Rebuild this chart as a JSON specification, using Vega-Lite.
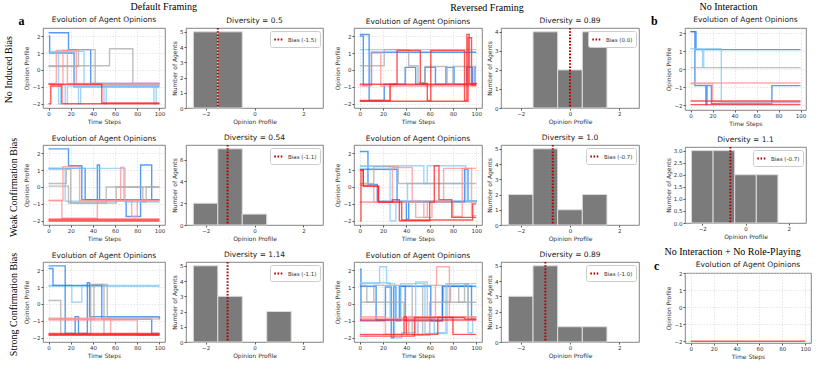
{
"$schema":"https://vega.github.io/schema/vega-lite/v6.json",
"padding":{"left":4,"top":1,"right":2,"bottom":1},
"config":{
 "font":"DejaVu Sans",
 "view":{"stroke":"#666666","strokeWidth":0.8},
 "axis":{"labelFontSize":5.5,"titleFontSize":6,"labelColor":"#333333","titleColor":"#333333","tickColor":"#555555","tickSize":2,"labelPadding":1,"titlePadding":2,"domain":false,"titleFontWeight":"normal","gridColor":"#d5d5d5","gridDash":[1.5,1.5],"gridWidth":0.6},
 "title":{"fontSize":7.5,"fontWeight":"normal","offset":3,"color":"#222222","font":"DejaVu Sans"}
},
"datasets":{
"lines":[
{"p":"D1","a":1,"g":"Dem","t":0,"v":2.2},{"p":"D1","a":1,"g":"Dem","t":18,"v":1.2},{"p":"D1","a":1,"g":"Dem","t":38,"v":-0.8},{"p":"D1","a":1,"g":"Dem","t":100,"v":-0.8},
{"p":"D1","a":2,"g":"Dem","t":0,"v":2.0},{"p":"D1","a":2,"g":"Dem","t":1,"v":1.0},{"p":"D1","a":2,"g":"Dem","t":23,"v":-1.0},{"p":"D1","a":2,"g":"Dem","t":100,"v":-1.0},
{"p":"D1","a":3,"g":"LDem","t":0,"v":1.05},{"p":"D1","a":3,"g":"LDem","t":9,"v":-2},{"p":"D1","a":3,"g":"LDem","t":11,"v":-0.9},{"p":"D1","a":3,"g":"LDem","t":15,"v":-2},{"p":"D1","a":3,"g":"LDem","t":17,"v":-0.95},{"p":"D1","a":3,"g":"LDem","t":27,"v":-2},{"p":"D1","a":3,"g":"LDem","t":29,"v":-0.95},{"p":"D1","a":3,"g":"LDem","t":50,"v":-2},{"p":"D1","a":3,"g":"LDem","t":52,"v":-0.95},{"p":"D1","a":3,"g":"LDem","t":95,"v":-2},{"p":"D1","a":3,"g":"LDem","t":97,"v":-0.95},{"p":"D1","a":3,"g":"LDem","t":100,"v":-0.95},
{"p":"D1","a":4,"g":"LDem","t":0,"v":1.1},{"p":"D1","a":4,"g":"LDem","t":32,"v":-0.9},{"p":"D1","a":4,"g":"LDem","t":100,"v":-0.9},
{"p":"D1","a":5,"g":"Neu","t":0,"v":0.25},{"p":"D1","a":5,"g":"Neu","t":55,"v":1.25},{"p":"D1","a":5,"g":"Neu","t":76,"v":-0.8},{"p":"D1","a":5,"g":"Neu","t":100,"v":-0.8},
{"p":"D1","a":6,"g":"Neu","t":0,"v":0.2},{"p":"D1","a":6,"g":"Neu","t":27,"v":1.2},{"p":"D1","a":6,"g":"Neu","t":42,"v":-0.85},{"p":"D1","a":6,"g":"Neu","t":100,"v":-0.85},
{"p":"D1","a":7,"g":"LRep","t":0,"v":-0.8},{"p":"D1","a":7,"g":"LRep","t":7,"v":1.15},{"p":"D1","a":7,"g":"LRep","t":17,"v":-0.8},{"p":"D1","a":7,"g":"LRep","t":100,"v":-0.8},
{"p":"D1","a":8,"g":"LRep","t":0,"v":-0.85},{"p":"D1","a":8,"g":"LRep","t":13,"v":1.15},{"p":"D1","a":8,"g":"LRep","t":25,"v":-0.9},{"p":"D1","a":8,"g":"LRep","t":100,"v":-0.9},
{"p":"D1","a":9,"g":"Rep","t":0,"v":-2},{"p":"D1","a":9,"g":"Rep","t":2,"v":-0.95},{"p":"D1","a":9,"g":"Rep","t":12,"v":-2},{"p":"D1","a":9,"g":"Rep","t":100,"v":-2},
{"p":"D1","a":10,"g":"Rep","t":0,"v":-0.85},{"p":"D1","a":10,"g":"Rep","t":48,"v":-1.95},{"p":"D1","a":10,"g":"Rep","t":100,"v":-1.95},

{"p":"R1","a":1,"g":"LDem","t":0,"v":1.2},{"p":"R1","a":1,"g":"LDem","t":100,"v":1.2},
{"p":"R1","a":2,"g":"Dem","t":0,"v":2.1},{"p":"R1","a":2,"g":"Dem","t":8,"v":-1.8},{"p":"R1","a":2,"g":"Dem","t":21,"v":-0.85},{"p":"R1","a":2,"g":"Dem","t":39,"v":0.15},{"p":"R1","a":2,"g":"Dem","t":48,"v":-0.85},{"p":"R1","a":2,"g":"Dem","t":56,"v":0.15},{"p":"R1","a":2,"g":"Dem","t":65,"v":-0.85},{"p":"R1","a":2,"g":"Dem","t":74,"v":0.15},{"p":"R1","a":2,"g":"Dem","t":81,"v":-0.85},{"p":"R1","a":2,"g":"Dem","t":92,"v":0.15},{"p":"R1","a":2,"g":"Dem","t":97,"v":-0.9},{"p":"R1","a":2,"g":"Dem","t":99,"v":0.15},{"p":"R1","a":2,"g":"Dem","t":100,"v":0.15},
{"p":"R1","a":3,"g":"Dem","t":0,"v":2.0},{"p":"R1","a":3,"g":"Dem","t":3,"v":-0.9},{"p":"R1","a":3,"g":"Dem","t":10,"v":1.05},{"p":"R1","a":3,"g":"Dem","t":100,"v":1.05},
{"p":"R1","a":4,"g":"Neu","t":0,"v":0.25},{"p":"R1","a":4,"g":"Neu","t":21,"v":1.2},{"p":"R1","a":4,"g":"Neu","t":42,"v":0.25},{"p":"R1","a":4,"g":"Neu","t":50,"v":-0.75},{"p":"R1","a":4,"g":"Neu","t":56,"v":0.2},{"p":"R1","a":4,"g":"Neu","t":75,"v":-0.8},{"p":"R1","a":4,"g":"Neu","t":80,"v":0.2},{"p":"R1","a":4,"g":"Neu","t":100,"v":0.2},
{"p":"R1","a":6,"g":"LRep","t":0,"v":-0.95},{"p":"R1","a":6,"g":"LRep","t":10,"v":1.0},{"p":"R1","a":6,"g":"LRep","t":18,"v":-0.95},{"p":"R1","a":6,"g":"LRep","t":100,"v":-0.95},
{"p":"R1","a":7,"g":"LRep","t":0,"v":-1.85},{"p":"R1","a":7,"g":"LRep","t":26,"v":-0.9},{"p":"R1","a":7,"g":"LRep","t":100,"v":-0.9},
{"p":"R1","a":8,"g":"Rep","t":0,"v":-1.8},{"p":"R1","a":8,"g":"Rep","t":26,"v":-0.85},{"p":"R1","a":8,"g":"Rep","t":32,"v":1.15},{"p":"R1","a":8,"g":"Rep","t":52,"v":-0.8},{"p":"R1","a":8,"g":"Rep","t":58,"v":-1.8},{"p":"R1","a":8,"g":"Rep","t":61,"v":1.15},{"p":"R1","a":8,"g":"Rep","t":90,"v":-1.8},{"p":"R1","a":8,"g":"Rep","t":92,"v":2.1},{"p":"R1","a":8,"g":"Rep","t":94,"v":-0.8},{"p":"R1","a":8,"g":"Rep","t":100,"v":-0.85},
{"p":"R1","a":9,"g":"Rep","t":0,"v":-0.85},{"p":"R1","a":9,"g":"Rep","t":100,"v":-0.85},
{"p":"R1","a":10,"g":"Rep","t":0,"v":-1.85},{"p":"R1","a":10,"g":"Rep","t":90,"v":-1.85},{"p":"R1","a":10,"g":"Rep","t":93,"v":1.9},{"p":"R1","a":10,"g":"Rep","t":96,"v":-0.9},{"p":"R1","a":10,"g":"Rep","t":100,"v":-0.9},

{"p":"D2","a":1,"g":"Dem","t":0,"v":2.25},{"p":"D2","a":1,"g":"Dem","t":18,"v":1.25},{"p":"D2","a":1,"g":"Dem","t":30,"v":-0.75},{"p":"D2","a":1,"g":"Dem","t":100,"v":-0.75},
{"p":"D2","a":2,"g":"Dem","t":0,"v":1.1},{"p":"D2","a":2,"g":"Dem","t":33,"v":-0.75},{"p":"D2","a":2,"g":"Dem","t":44,"v":1.3},{"p":"D2","a":2,"g":"Dem","t":46,"v":-0.75},{"p":"D2","a":2,"g":"Dem","t":70,"v":-1.75},{"p":"D2","a":2,"g":"Dem","t":83,"v":1.3},{"p":"D2","a":2,"g":"Dem","t":93,"v":-0.75},{"p":"D2","a":2,"g":"Dem","t":100,"v":-0.75},
{"p":"D2","a":3,"g":"LDem","t":0,"v":1.1},{"p":"D2","a":3,"g":"LDem","t":69,"v":-0.9},{"p":"D2","a":3,"g":"LDem","t":100,"v":-0.9},
{"p":"D2","a":4,"g":"LDem","t":0,"v":1.05},{"p":"D2","a":4,"g":"LDem","t":15,"v":-0.85},{"p":"D2","a":4,"g":"LDem","t":100,"v":-0.85},
{"p":"D2","a":5,"g":"Neu","t":0,"v":0.2},{"p":"D2","a":5,"g":"Neu","t":16,"v":1.05},{"p":"D2","a":5,"g":"Neu","t":20,"v":-0.95},{"p":"D2","a":5,"g":"Neu","t":52,"v":0.0},{"p":"D2","a":5,"g":"Neu","t":100,"v":0.0},
{"p":"D2","a":6,"g":"Neu","t":0,"v":0.05},{"p":"D2","a":6,"g":"Neu","t":18,"v":-0.95},{"p":"D2","a":6,"g":"Neu","t":61,"v":0.0},{"p":"D2","a":6,"g":"Neu","t":85,"v":-0.9},{"p":"D2","a":6,"g":"Neu","t":88,"v":0.0},{"p":"D2","a":6,"g":"Neu","t":100,"v":0.0},
{"p":"D2","a":7,"g":"LRep","t":0,"v":-0.8},{"p":"D2","a":7,"g":"LRep","t":12,"v":-1.85},{"p":"D2","a":7,"g":"LRep","t":44,"v":-0.8},{"p":"D2","a":7,"g":"LRep","t":65,"v":1.15},{"p":"D2","a":7,"g":"LRep","t":68,"v":-0.8},{"p":"D2","a":7,"g":"LRep","t":100,"v":-0.8},
{"p":"D2","a":8,"g":"LRep","t":0,"v":-0.8},{"p":"D2","a":8,"g":"LRep","t":13,"v":1.2},{"p":"D2","a":8,"g":"LRep","t":28,"v":-0.8},{"p":"D2","a":8,"g":"LRep","t":75,"v":-1.75},{"p":"D2","a":8,"g":"LRep","t":80,"v":-0.8},{"p":"D2","a":8,"g":"LRep","t":100,"v":-0.8},
{"p":"D2","a":9,"g":"Rep","t":0,"v":-1.9},{"p":"D2","a":9,"g":"Rep","t":100,"v":-1.9},
{"p":"D2","a":10,"g":"Rep","t":0,"v":-1.96},{"p":"D2","a":10,"g":"Rep","t":100,"v":-1.96},
{"p":"D2","a":11,"g":"Rep","t":0,"v":-2.02},{"p":"D2","a":11,"g":"Rep","t":100,"v":-2.02},

{"p":"R2","a":1,"g":"Dem","t":0,"v":2.1},{"p":"R2","a":1,"g":"Dem","t":7,"v":0.15},{"p":"R2","a":1,"g":"Dem","t":15,"v":-0.85},{"p":"R2","a":1,"g":"Dem","t":100,"v":-0.9},
{"p":"R2","a":2,"g":"Dem","t":0,"v":1.05},{"p":"R2","a":2,"g":"Dem","t":32,"v":-0.9},{"p":"R2","a":2,"g":"Dem","t":40,"v":-1.9},{"p":"R2","a":2,"g":"Dem","t":42,"v":-0.9},{"p":"R2","a":2,"g":"Dem","t":90,"v":1.05},{"p":"R2","a":2,"g":"Dem","t":93,"v":-0.85},{"p":"R2","a":2,"g":"Dem","t":100,"v":-0.85},
{"p":"R2","a":3,"g":"LDem","t":0,"v":1.25},{"p":"R2","a":3,"g":"LDem","t":55,"v":0.2},{"p":"R2","a":3,"g":"LDem","t":58,"v":1.25},{"p":"R2","a":3,"g":"LDem","t":91,"v":-0.85},{"p":"R2","a":3,"g":"LDem","t":100,"v":-0.85},
{"p":"R2","a":4,"g":"LDem","t":0,"v":1.2},{"p":"R2","a":4,"g":"LDem","t":26,"v":-2},{"p":"R2","a":4,"g":"LDem","t":31,"v":-0.85},{"p":"R2","a":4,"g":"LDem","t":41,"v":0.2},{"p":"R2","a":4,"g":"LDem","t":93,"v":-0.85},{"p":"R2","a":4,"g":"LDem","t":100,"v":-0.85},
{"p":"R2","a":5,"g":"Neu","t":0,"v":0.2},{"p":"R2","a":5,"g":"Neu","t":12,"v":1.2},{"p":"R2","a":5,"g":"Neu","t":33,"v":0.2},{"p":"R2","a":5,"g":"Neu","t":100,"v":0.2},
{"p":"R2","a":6,"g":"Neu","t":0,"v":-0.9},{"p":"R2","a":6,"g":"Neu","t":100,"v":-0.9},
{"p":"R2","a":7,"g":"LRep","t":0,"v":-0.9},{"p":"R2","a":7,"g":"LRep","t":28,"v":1.15},{"p":"R2","a":7,"g":"LRep","t":45,"v":-0.85},{"p":"R2","a":7,"g":"LRep","t":55,"v":-1.8},{"p":"R2","a":7,"g":"LRep","t":62,"v":-0.9},{"p":"R2","a":7,"g":"LRep","t":72,"v":1.1},{"p":"R2","a":7,"g":"LRep","t":100,"v":1.1},
{"p":"R2","a":8,"g":"LRep","t":0,"v":0.1},{"p":"R2","a":8,"g":"LRep","t":12,"v":-0.9},{"p":"R2","a":8,"g":"LRep","t":48,"v":-1.8},{"p":"R2","a":8,"g":"LRep","t":58,"v":-0.85},{"p":"R2","a":8,"g":"LRep","t":80,"v":-1.75},{"p":"R2","a":8,"g":"LRep","t":88,"v":1.1},{"p":"R2","a":8,"g":"LRep","t":96,"v":-1.7},{"p":"R2","a":8,"g":"LRep","t":100,"v":-1.7},
{"p":"R2","a":9,"g":"Rep","t":0,"v":-2},{"p":"R2","a":9,"g":"Rep","t":1,"v":1.0},{"p":"R2","a":9,"g":"Rep","t":3,"v":0.05},{"p":"R2","a":9,"g":"Rep","t":16,"v":-0.9},{"p":"R2","a":9,"g":"Rep","t":28,"v":-0.75},{"p":"R2","a":9,"g":"Rep","t":34,"v":-2},{"p":"R2","a":9,"g":"Rep","t":60,"v":-0.9},{"p":"R2","a":9,"g":"Rep","t":64,"v":1.25},{"p":"R2","a":9,"g":"Rep","t":68,"v":-0.75},{"p":"R2","a":9,"g":"Rep","t":79,"v":-1.8},{"p":"R2","a":9,"g":"Rep","t":100,"v":-1.8},
{"p":"R2","a":10,"g":"Rep","t":0,"v":1.0},{"p":"R2","a":10,"g":"Rep","t":3,"v":0.05},{"p":"R2","a":10,"g":"Rep","t":16,"v":-0.9},{"p":"R2","a":10,"g":"Rep","t":36,"v":-1.95},{"p":"R2","a":10,"g":"Rep","t":97,"v":-1.0},{"p":"R2","a":10,"g":"Rep","t":100,"v":-1.0},

{"p":"D3","a":1,"g":"LDem","t":0,"v":1.05},{"p":"D3","a":1,"g":"LDem","t":100,"v":1.05},
{"p":"D3","a":2,"g":"LDem","t":0,"v":1.1},{"p":"D3","a":2,"g":"LDem","t":21,"v":0.1},{"p":"D3","a":2,"g":"LDem","t":30,"v":1.1},{"p":"D3","a":2,"g":"LDem","t":100,"v":1.1},
{"p":"D3","a":3,"g":"Dem","t":0,"v":2.25},{"p":"D3","a":3,"g":"Dem","t":15,"v":-1.75},{"p":"D3","a":3,"g":"Dem","t":24,"v":-0.75},{"p":"D3","a":3,"g":"Dem","t":27,"v":-1.75},{"p":"D3","a":3,"g":"Dem","t":35,"v":1.25},{"p":"D3","a":3,"g":"Dem","t":37,"v":-0.75},{"p":"D3","a":3,"g":"Dem","t":100,"v":-0.9},
{"p":"D3","a":4,"g":"Dem","t":0,"v":2.1},{"p":"D3","a":4,"g":"Dem","t":4,"v":1.1},{"p":"D3","a":4,"g":"Dem","t":48,"v":-0.9},{"p":"D3","a":4,"g":"Dem","t":93,"v":-1.75},{"p":"D3","a":4,"g":"Dem","t":100,"v":-1.75},
{"p":"D3","a":5,"g":"Neu","t":0,"v":0.2},{"p":"D3","a":5,"g":"Neu","t":11,"v":-1.8},{"p":"D3","a":5,"g":"Neu","t":38,"v":1.15},{"p":"D3","a":5,"g":"Neu","t":50,"v":-1.8},{"p":"D3","a":5,"g":"Neu","t":100,"v":-1.8},
{"p":"D3","a":6,"g":"Neu","t":0,"v":-0.9},{"p":"D3","a":6,"g":"Neu","t":41,"v":1.15},{"p":"D3","a":6,"g":"Neu","t":53,"v":-0.8},{"p":"D3","a":6,"g":"Neu","t":100,"v":-0.8},
{"p":"D3","a":7,"g":"LRep","t":0,"v":-0.9},{"p":"D3","a":7,"g":"LRep","t":100,"v":-0.9},
{"p":"D3","a":8,"g":"LRep","t":0,"v":-0.85},{"p":"D3","a":8,"g":"LRep","t":56,"v":-1.8},{"p":"D3","a":8,"g":"LRep","t":100,"v":-1.8},
{"p":"D3","a":9,"g":"LRep","t":0,"v":-0.95},{"p":"D3","a":9,"g":"LRep","t":80,"v":-1.85},{"p":"D3","a":9,"g":"LRep","t":100,"v":-1.85},
{"p":"D3","a":10,"g":"Rep","t":0,"v":-1.8},{"p":"D3","a":10,"g":"Rep","t":100,"v":-1.8},
{"p":"D3","a":11,"g":"Rep","t":0,"v":-1.85},{"p":"D3","a":11,"g":"Rep","t":100,"v":-1.85},
{"p":"D3","a":12,"g":"Rep","t":0,"v":-1.75},{"p":"D3","a":12,"g":"Rep","t":100,"v":-1.75},

{"p":"R3","a":1,"g":"Dem","t":0,"v":2.05},{"p":"R3","a":1,"g":"Dem","t":1,"v":-1.0},{"p":"R3","a":1,"g":"Dem","t":22,"v":1.0},{"p":"R3","a":1,"g":"Dem","t":27,"v":-2.0},{"p":"R3","a":1,"g":"Dem","t":29,"v":1.0},{"p":"R3","a":1,"g":"Dem","t":31,"v":-1.0},{"p":"R3","a":1,"g":"Dem","t":35,"v":1.05},{"p":"R3","a":1,"g":"Dem","t":61,"v":-1.0},{"p":"R3","a":1,"g":"Dem","t":71,"v":1.05},{"p":"R3","a":1,"g":"Dem","t":100,"v":1.05},
{"p":"R3","a":2,"g":"Dem","t":0,"v":1.05},{"p":"R3","a":2,"g":"Dem","t":14,"v":-0.95},{"p":"R3","a":2,"g":"Dem","t":34,"v":1.05},{"p":"R3","a":2,"g":"Dem","t":39,"v":-1.0},{"p":"R3","a":2,"g":"Dem","t":71,"v":1.05},{"p":"R3","a":2,"g":"Dem","t":96,"v":-0.9},{"p":"R3","a":2,"g":"Dem","t":100,"v":-0.9},
{"p":"R3","a":3,"g":"LDem","t":0,"v":1.2},{"p":"R3","a":3,"g":"LDem","t":17,"v":2.2},{"p":"R3","a":3,"g":"LDem","t":23,"v":1.2},{"p":"R3","a":3,"g":"LDem","t":30,"v":-2},{"p":"R3","a":3,"g":"LDem","t":36,"v":-1.7},{"p":"R3","a":3,"g":"LDem","t":48,"v":1.3},{"p":"R3","a":3,"g":"LDem","t":58,"v":-0.9},{"p":"R3","a":3,"g":"LDem","t":64,"v":-1.7},{"p":"R3","a":3,"g":"LDem","t":74,"v":1.2},{"p":"R3","a":3,"g":"LDem","t":93,"v":-1.7},{"p":"R3","a":3,"g":"LDem","t":97,"v":-0.75},{"p":"R3","a":3,"g":"LDem","t":100,"v":-0.75},
{"p":"R3","a":4,"g":"LDem","t":0,"v":1.25},{"p":"R3","a":4,"g":"LDem","t":26,"v":-0.95},{"p":"R3","a":4,"g":"LDem","t":35,"v":1.2},{"p":"R3","a":4,"g":"LDem","t":56,"v":-1.75},{"p":"R3","a":4,"g":"LDem","t":75,"v":1.2},{"p":"R3","a":4,"g":"LDem","t":100,"v":1.2},
{"p":"R3","a":5,"g":"Neu","t":0,"v":0.1},{"p":"R3","a":5,"g":"Neu","t":38,"v":-0.8},{"p":"R3","a":5,"g":"Neu","t":50,"v":-1.85},{"p":"R3","a":5,"g":"Neu","t":60,"v":0.1},{"p":"R3","a":5,"g":"Neu","t":78,"v":1.1},{"p":"R3","a":5,"g":"Neu","t":85,"v":0.1},{"p":"R3","a":5,"g":"Neu","t":100,"v":0.1},
{"p":"R3","a":6,"g":"Neu","t":0,"v":1.1},{"p":"R3","a":6,"g":"Neu","t":6,"v":0.1},{"p":"R3","a":6,"g":"Neu","t":12,"v":1.1},{"p":"R3","a":6,"g":"Neu","t":45,"v":-1.85},{"p":"R3","a":6,"g":"Neu","t":54,"v":1.1},{"p":"R3","a":6,"g":"Neu","t":72,"v":0.1},{"p":"R3","a":6,"g":"Neu","t":90,"v":1.15},{"p":"R3","a":6,"g":"Neu","t":93,"v":-0.9},{"p":"R3","a":6,"g":"Neu","t":100,"v":-0.9},
{"p":"R3","a":7,"g":"LRep","t":0,"v":-0.85},{"p":"R3","a":7,"g":"LRep","t":65,"v":1.1},{"p":"R3","a":7,"g":"LRep","t":66,"v":2.2},{"p":"R3","a":7,"g":"LRep","t":77,"v":-0.8},{"p":"R3","a":7,"g":"LRep","t":100,"v":-0.85},
{"p":"R3","a":8,"g":"LRep","t":0,"v":-0.75},{"p":"R3","a":8,"g":"LRep","t":22,"v":-1.8},{"p":"R3","a":8,"g":"LRep","t":42,"v":-0.75},{"p":"R3","a":8,"g":"LRep","t":100,"v":-0.75},
{"p":"R3","a":9,"g":"Rep","t":0,"v":-1.8},{"p":"R3","a":9,"g":"Rep","t":38,"v":-0.75},{"p":"R3","a":9,"g":"Rep","t":40,"v":-1.8},{"p":"R3","a":9,"g":"Rep","t":67,"v":-0.8},{"p":"R3","a":9,"g":"Rep","t":80,"v":-1.8},{"p":"R3","a":9,"g":"Rep","t":100,"v":-1.8},
{"p":"R3","a":10,"g":"Rep","t":0,"v":-0.95},{"p":"R3","a":10,"g":"Rep","t":100,"v":-0.95},
{"p":"R3","a":11,"g":"Rep","t":0,"v":-1.9},{"p":"R3","a":11,"g":"Rep","t":47,"v":-0.8},{"p":"R3","a":11,"g":"Rep","t":90,"v":-0.9},{"p":"R3","a":11,"g":"Rep","t":100,"v":-0.9},

{"p":"B","a":1,"g":"Dem","t":0,"v":2.1},{"p":"B","a":1,"g":"Dem","t":4,"v":-0.9},{"p":"B","a":1,"g":"Dem","t":14,"v":-1.95},{"p":"B","a":1,"g":"Dem","t":15,"v":-0.9},{"p":"B","a":1,"g":"Dem","t":19,"v":-1.9},{"p":"B","a":1,"g":"Dem","t":74,"v":-0.9},{"p":"B","a":1,"g":"Dem","t":100,"v":-0.9},
{"p":"B","a":2,"g":"Dem","t":0,"v":2.1},{"p":"B","a":2,"g":"Dem","t":5,"v":1.1},{"p":"B","a":2,"g":"Dem","t":100,"v":1.1},
{"p":"B","a":3,"g":"LDem","t":0,"v":1.15},{"p":"B","a":3,"g":"LDem","t":11,"v":0.15},{"p":"B","a":3,"g":"LDem","t":12,"v":1.15},{"p":"B","a":3,"g":"LDem","t":28,"v":-1.85},{"p":"B","a":3,"g":"LDem","t":100,"v":-1.85},
{"p":"B","a":4,"g":"Neu","t":0,"v":0.1},{"p":"B","a":4,"g":"Neu","t":100,"v":0.1},
{"p":"B","a":5,"g":"LRep","t":0,"v":-0.75},{"p":"B","a":5,"g":"LRep","t":100,"v":-0.75},
{"p":"B","a":6,"g":"LRep","t":0,"v":-0.8},{"p":"B","a":6,"g":"LRep","t":20,"v":-1.8},{"p":"B","a":6,"g":"LRep","t":100,"v":-1.8},
{"p":"B","a":7,"g":"Rep","t":0,"v":-1.75},{"p":"B","a":7,"g":"Rep","t":100,"v":-1.75},
{"p":"B","a":8,"g":"Rep","t":0,"v":-1.95},{"p":"B","a":8,"g":"Rep","t":100,"v":-1.95},

{"p":"C","a":1,"g":"Rep","t":0,"v":-2},{"p":"C","a":1,"g":"Rep","t":100,"v":-2}
],
"hist":[
{"p":"D1","lo":-2.5,"hi":-1.5,"n":5},{"p":"D1","lo":-1.5,"hi":-0.5,"n":5},
{"p":"R1","lo":-1.5,"hi":-0.5,"n":4},{"p":"R1","lo":-0.5,"hi":0.5,"n":2},{"p":"R1","lo":0.5,"hi":1.5,"n":4},
{"p":"D2","lo":-2.5,"hi":-1.5,"n":2},{"p":"D2","lo":-1.5,"hi":-0.5,"n":7},{"p":"D2","lo":-0.5,"hi":0.5,"n":1},
{"p":"R2","lo":-2.5,"hi":-1.5,"n":2},{"p":"R2","lo":-1.5,"hi":-0.5,"n":5},{"p":"R2","lo":-0.5,"hi":0.5,"n":1},{"p":"R2","lo":0.5,"hi":1.5,"n":2},
{"p":"D3","lo":-2.5,"hi":-1.5,"n":5},{"p":"D3","lo":-1.5,"hi":-0.5,"n":3},{"p":"D3","lo":0.5,"hi":1.5,"n":2},
{"p":"R3","lo":-2.5,"hi":-1.5,"n":3},{"p":"R3","lo":-1.5,"hi":-0.5,"n":5},{"p":"R3","lo":-0.5,"hi":0.5,"n":1},{"p":"R3","lo":0.5,"hi":1.5,"n":1},
{"p":"B","lo":-2.5,"hi":-1.5,"n":3},{"p":"B","lo":-1.5,"hi":-0.5,"n":3},{"p":"B","lo":-0.5,"hi":0.5,"n":2},{"p":"B","lo":0.5,"hi":1.5,"n":2}
],
"bias":[
{"p":"D1","b":-1.5,"label":"Bias (-1.5)"},
{"p":"R1","b":0.0,"label":"Bias (0.0)"},
{"p":"D2","b":-1.1,"label":"Bias (-1.1)"},
{"p":"R2","b":-0.7,"label":"Bias (-0.7)"},
{"p":"D3","b":-1.1,"label":"Bias (-1.1)"},
{"p":"R3","b":-1.0,"label":"Bias (-1.0)"},
{"p":"B","b":-0.7,"label":"Bias (-0.7)"}
]
},
"hconcat":[
{
 "title":{"text":"Default Framing","font":"Liberation Serif","fontSize":10,"color":"#000000","offset":3,"anchor":"middle"},
 "spacing":8,
 "resolve":{"scale":{"color":"independent","x":"independent","y":"independent"},"legend":{"color":"independent"}},
 "vconcat":[
  {"title":{"text":"No Induced Bias","orient":"left","font":"Liberation Serif","fontSize":10,"color":"#000000","offset":4,"anchor":"middle"},
   "spacing":5,
   "resolve":{"scale":{"color":"independent","x":"independent","y":"independent"},"legend":{"color":"independent"}},
   "hconcat":[
    {"width":122,"height":80,"title":{"text":"Evolution of Agent Opinions","offset":-8},
     "layer":[
      {"data":{"name":"lines"},"transform":[{"filter":"datum.p==='D1'"}],
       "mark":{"type":"line","interpolate":"step-after","strokeWidth":1.4,"opacity":0.75},
       "encoding":{
        "x":{"field":"t","type":"quantitative","scale":{"domain":[-5,105],"nice":false},"axis":{"values":[0,20,40,60,80,100],"title":"Time Steps","grid":true}},
        "y":{"field":"v","type":"quantitative","scale":{"domain":[-2.25,2.48],"nice":false,"zero":false},"axis":{"values":[-2,-1,0,1,2],"title":"Opinion Profile","grid":true}},
        "color":{"field":"g","type":"nominal","scale":{"domain":["Dem","LDem","Neu","LRep","Rep"],"range":["#1f7bf0","#82c8f5","#a9a9a9","#ff9090","#ff2020"]},"legend":null},
        "detail":{"field":"a","type":"nominal"}}},
      {"data":{"values":[{"k":"a"}]},"mark":{"type":"text","font":"Liberation Serif","fontSize":12,"fontWeight":"bold","align":"left","baseline":"bottom"},
       "encoding":{"x":{"datum":-27,"type":"quantitative","axis":{"values":[0,20,40,60,80,100],"title":"Time Steps","grid":true}},"y":{"datum":2.48,"type":"quantitative","axis":{"values":[-2,-1,0,1,2],"title":"Opinion Profile","grid":true}},"text":{"field":"k"}}}
     ]},
    {"width":137,"height":80,"title":"Diversity = 0.5",
     "layer":[
      {"data":{"name":"hist"},"transform":[{"filter":"datum.p==='D1'"}],"mark":{"type":"rect","fill":"#7b7b7b","stroke":"#dcdcdc","strokeWidth":1},
       "encoding":{"x":{"field":"lo","type":"quantitative","scale":{"domain":[-2.8,2.8],"nice":false},"axis":{"values":[-2,-1,0,1,2],"title":"Opinion Profile","grid":false}},"x2":{"field":"hi"},
        "y":{"field":"n","type":"quantitative","scale":{"domain":[0,5.25],"nice":false},"axis":{"values":[0,1,2,3,4,5],"title":"Number of Agents","grid":false}},"y2":{"datum":0}}},
      {"data":{"name":"bias"},"transform":[{"filter":"datum.p==='D1'"}],"mark":{"type":"rule","strokeWidth":2,"strokeDash":[1.6,1.6]},
       "encoding":{"x":{"field":"b","type":"quantitative"},"color":{"field":"label","type":"nominal","scale":{"range":["#b00000"]},"legend":{"title":null,"orient":"top-right","offset":3,"symbolType":"stroke","symbolDash":[1.6,1.6],"symbolStrokeWidth":2,"symbolSize":70,"labelFontSize":5.5,"labelColor":"#333333","padding":3,"strokeColor":"#cccccc","fillColor":"#ffffff","cornerRadius":2}}}}
     ]}
   ]},
  {"title":{"text":"Weak Confirmation Bias","orient":"left","font":"Liberation Serif","fontSize":10,"color":"#000000","offset":4,"anchor":"middle"},
   "spacing":5,
   "resolve":{"scale":{"color":"independent","x":"independent","y":"independent"},"legend":{"color":"independent"}},
   "hconcat":[
    {"width":122,"height":80,"title":"Evolution of Agent Opinions",
     "data":{"name":"lines"},"transform":[{"filter":"datum.p==='D2'"}],
     "mark":{"type":"line","interpolate":"step-after","strokeWidth":1.4,"opacity":0.75},
     "encoding":{
      "x":{"field":"t","type":"quantitative","scale":{"domain":[-5,105],"nice":false},"axis":{"values":[0,20,40,60,80,100],"title":"Time Steps","grid":true}},
      "y":{"field":"v","type":"quantitative","scale":{"domain":[-2.25,2.48],"nice":false,"zero":false},"axis":{"values":[-2,-1,0,1,2],"title":"Opinion Profile","grid":true}},
      "color":{"field":"g","type":"nominal","scale":{"domain":["Dem","LDem","Neu","LRep","Rep"],"range":["#1f7bf0","#82c8f5","#a9a9a9","#ff9090","#ff2020"]},"legend":null},
      "detail":{"field":"a","type":"nominal"}}},
    {"width":137,"height":80,"title":"Diversity = 0.54",
     "layer":[
      {"data":{"name":"hist"},"transform":[{"filter":"datum.p==='D2'"}],"mark":{"type":"rect","fill":"#7b7b7b","stroke":"#dcdcdc","strokeWidth":1},
       "encoding":{"x":{"field":"lo","type":"quantitative","scale":{"domain":[-2.8,2.8],"nice":false},"axis":{"values":[-2,-1,0,1,2],"title":"Opinion Profile","grid":false}},"x2":{"field":"hi"},
        "y":{"field":"n","type":"quantitative","scale":{"domain":[0,7.35],"nice":false},"axis":{"values":[0,2,4,6],"title":"Number of Agents","grid":false}},"y2":{"datum":0}}},
      {"data":{"name":"bias"},"transform":[{"filter":"datum.p==='D2'"}],"mark":{"type":"rule","strokeWidth":2,"strokeDash":[1.6,1.6]},
       "encoding":{"x":{"field":"b","type":"quantitative"},"color":{"field":"label","type":"nominal","scale":{"range":["#b00000"]},"legend":{"title":null,"orient":"top-right","offset":3,"symbolType":"stroke","symbolDash":[1.6,1.6],"symbolStrokeWidth":2,"symbolSize":70,"labelFontSize":5.5,"labelColor":"#333333","padding":3,"strokeColor":"#cccccc","fillColor":"#ffffff","cornerRadius":2}}}}
     ]}
   ]},
  {"title":{"text":"Strong Confirmation Bias","orient":"left","font":"Liberation Serif","fontSize":10,"color":"#000000","offset":4,"anchor":"middle"},
   "spacing":5,
   "resolve":{"scale":{"color":"independent","x":"independent","y":"independent"},"legend":{"color":"independent"}},
   "hconcat":[
    {"width":122,"height":80,"title":"Evolution of Agent Opinions",
     "data":{"name":"lines"},"transform":[{"filter":"datum.p==='D3'"}],
     "mark":{"type":"line","interpolate":"step-after","strokeWidth":1.4,"opacity":0.75},
     "encoding":{
      "x":{"field":"t","type":"quantitative","scale":{"domain":[-5,105],"nice":false},"axis":{"values":[0,20,40,60,80,100],"title":"Time Steps","grid":true}},
      "y":{"field":"v","type":"quantitative","scale":{"domain":[-2.25,2.48],"nice":false,"zero":false},"axis":{"values":[-2,-1,0,1,2],"title":"Opinion Profile","grid":true}},
      "color":{"field":"g","type":"nominal","scale":{"domain":["Dem","LDem","Neu","LRep","Rep"],"range":["#1f7bf0","#82c8f5","#a9a9a9","#ff9090","#ff2020"]},"legend":null},
      "detail":{"field":"a","type":"nominal"}}},
    {"width":137,"height":80,"title":"Diversity = 1.14",
     "layer":[
      {"data":{"name":"hist"},"transform":[{"filter":"datum.p==='D3'"}],"mark":{"type":"rect","fill":"#7b7b7b","stroke":"#dcdcdc","strokeWidth":1},
       "encoding":{"x":{"field":"lo","type":"quantitative","scale":{"domain":[-2.8,2.8],"nice":false},"axis":{"values":[-2,-1,0,1,2],"title":"Opinion Profile","grid":false}},"x2":{"field":"hi"},
        "y":{"field":"n","type":"quantitative","scale":{"domain":[0,5.25],"nice":false},"axis":{"values":[0,1,2,3,4,5],"title":"Number of Agents","grid":false}},"y2":{"datum":0}}},
      {"data":{"name":"bias"},"transform":[{"filter":"datum.p==='D3'"}],"mark":{"type":"rule","strokeWidth":2,"strokeDash":[1.6,1.6]},
       "encoding":{"x":{"field":"b","type":"quantitative"},"color":{"field":"label","type":"nominal","scale":{"range":["#b00000"]},"legend":{"title":null,"orient":"top-right","offset":3,"symbolType":"stroke","symbolDash":[1.6,1.6],"symbolStrokeWidth":2,"symbolSize":70,"labelFontSize":5.5,"labelColor":"#333333","padding":3,"strokeColor":"#cccccc","fillColor":"#ffffff","cornerRadius":2}}}}
     ]}
   ]}
 ]
},
{
 "title":{"text":"Reversed Framing","font":"Liberation Serif","fontSize":10,"color":"#000000","offset":3,"anchor":"middle"},
 "spacing":8,
 "resolve":{"scale":{"color":"independent","x":"independent","y":"independent"},"legend":{"color":"independent"}},
 "vconcat":[
  {"spacing":3,
   "resolve":{"scale":{"color":"independent","x":"independent","y":"independent"},"legend":{"color":"independent"}},
   "hconcat":[
    {"width":128,"height":80,"title":"Evolution of Agent Opinions",
     "data":{"name":"lines"},"transform":[{"filter":"datum.p==='R1'"}],
     "mark":{"type":"line","interpolate":"step-after","strokeWidth":1.4,"opacity":0.75},
     "encoding":{
      "x":{"field":"t","type":"quantitative","scale":{"domain":[-5,105],"nice":false},"axis":{"values":[0,20,40,60,80,100],"title":"Time Steps","grid":true}},
      "y":{"field":"v","type":"quantitative","scale":{"domain":[-2.25,2.48],"nice":false,"zero":false},"axis":{"values":[-2,-1,0,1,2],"title":"Opinion Profile","grid":true}},
      "color":{"field":"g","type":"nominal","scale":{"domain":["Dem","LDem","Neu","LRep","Rep"],"range":["#1f7bf0","#82c8f5","#a9a9a9","#ff9090","#ff2020"]},"legend":null},
      "detail":{"field":"a","type":"nominal"}}},
    {"width":138,"height":80,"title":"Diversity = 0.89",
     "layer":[
      {"data":{"name":"hist"},"transform":[{"filter":"datum.p==='R1'"}],"mark":{"type":"rect","fill":"#7b7b7b","stroke":"#dcdcdc","strokeWidth":1},
       "encoding":{"x":{"field":"lo","type":"quantitative","scale":{"domain":[-2.8,2.8],"nice":false},"axis":{"values":[-2,-1,0,1,2],"title":"Opinion Profile","grid":false}},"x2":{"field":"hi"},
        "y":{"field":"n","type":"quantitative","scale":{"domain":[0,4.2],"nice":false},"axis":{"values":[0,1,2,3,4],"title":"Number of Agents","grid":false}},"y2":{"datum":0}}},
      {"data":{"name":"bias"},"transform":[{"filter":"datum.p==='R1'"}],"mark":{"type":"rule","strokeWidth":2,"strokeDash":[1.6,1.6]},
       "encoding":{"x":{"field":"b","type":"quantitative"},"color":{"field":"label","type":"nominal","scale":{"range":["#b00000"]},"legend":{"title":null,"orient":"top-right","offset":3,"symbolType":"stroke","symbolDash":[1.6,1.6],"symbolStrokeWidth":2,"symbolSize":70,"labelFontSize":5.5,"labelColor":"#333333","padding":3,"strokeColor":"#cccccc","fillColor":"#ffffff","cornerRadius":2}}}}
     ]}
   ]},
  {"spacing":3,
   "resolve":{"scale":{"color":"independent","x":"independent","y":"independent"},"legend":{"color":"independent"}},
   "hconcat":[
    {"width":128,"height":80,"title":"Evolution of Agent Opinions",
     "data":{"name":"lines"},"transform":[{"filter":"datum.p==='R2'"}],
     "mark":{"type":"line","interpolate":"step-after","strokeWidth":1.4,"opacity":0.75},
     "encoding":{
      "x":{"field":"t","type":"quantitative","scale":{"domain":[-5,105],"nice":false},"axis":{"values":[0,20,40,60,80,100],"title":"Time Steps","grid":true}},
      "y":{"field":"v","type":"quantitative","scale":{"domain":[-2.25,2.48],"nice":false,"zero":false},"axis":{"values":[-2,-1,0,1,2],"title":"Opinion Profile","grid":true}},
      "color":{"field":"g","type":"nominal","scale":{"domain":["Dem","LDem","Neu","LRep","Rep"],"range":["#1f7bf0","#82c8f5","#a9a9a9","#ff9090","#ff2020"]},"legend":null},
      "detail":{"field":"a","type":"nominal"}}},
    {"width":138,"height":80,"title":"Diversity = 1.0",
     "layer":[
      {"data":{"name":"hist"},"transform":[{"filter":"datum.p==='R2'"}],"mark":{"type":"rect","fill":"#7b7b7b","stroke":"#dcdcdc","strokeWidth":1},
       "encoding":{"x":{"field":"lo","type":"quantitative","scale":{"domain":[-2.8,2.8],"nice":false},"axis":{"values":[-2,-1,0,1,2],"title":"Opinion Profile","grid":false}},"x2":{"field":"hi"},
        "y":{"field":"n","type":"quantitative","scale":{"domain":[0,5.25],"nice":false},"axis":{"values":[0,1,2,3,4,5],"title":"Number of Agents","grid":false}},"y2":{"datum":0}}},
      {"data":{"name":"bias"},"transform":[{"filter":"datum.p==='R2'"}],"mark":{"type":"rule","strokeWidth":2,"strokeDash":[1.6,1.6]},
       "encoding":{"x":{"field":"b","type":"quantitative"},"color":{"field":"label","type":"nominal","scale":{"range":["#b00000"]},"legend":{"title":null,"orient":"top-right","offset":3,"symbolType":"stroke","symbolDash":[1.6,1.6],"symbolStrokeWidth":2,"symbolSize":70,"labelFontSize":5.5,"labelColor":"#333333","padding":3,"strokeColor":"#cccccc","fillColor":"#ffffff","cornerRadius":2}}}}
     ]}
   ]},
  {"spacing":3,
   "resolve":{"scale":{"color":"independent","x":"independent","y":"independent"},"legend":{"color":"independent"}},
   "hconcat":[
    {"width":128,"height":80,"title":"Evolution of Agent Opinions",
     "data":{"name":"lines"},"transform":[{"filter":"datum.p==='R3'"}],
     "mark":{"type":"line","interpolate":"step-after","strokeWidth":1.4,"opacity":0.75},
     "encoding":{
      "x":{"field":"t","type":"quantitative","scale":{"domain":[-5,105],"nice":false},"axis":{"values":[0,20,40,60,80,100],"title":"Time Steps","grid":true}},
      "y":{"field":"v","type":"quantitative","scale":{"domain":[-2.25,2.48],"nice":false,"zero":false},"axis":{"values":[-2,-1,0,1,2],"title":"Opinion Profile","grid":true}},
      "color":{"field":"g","type":"nominal","scale":{"domain":["Dem","LDem","Neu","LRep","Rep"],"range":["#1f7bf0","#82c8f5","#a9a9a9","#ff9090","#ff2020"]},"legend":null},
      "detail":{"field":"a","type":"nominal"}}},
    {"width":138,"height":80,"title":"Diversity = 0.89",
     "layer":[
      {"data":{"name":"hist"},"transform":[{"filter":"datum.p==='R3'"}],"mark":{"type":"rect","fill":"#7b7b7b","stroke":"#dcdcdc","strokeWidth":1},
       "encoding":{"x":{"field":"lo","type":"quantitative","scale":{"domain":[-2.8,2.8],"nice":false},"axis":{"values":[-2,-1,0,1,2],"title":"Opinion Profile","grid":false}},"x2":{"field":"hi"},
        "y":{"field":"n","type":"quantitative","scale":{"domain":[0,5.25],"nice":false},"axis":{"values":[0,1,2,3,4,5],"title":"Number of Agents","grid":false}},"y2":{"datum":0}}},
      {"data":{"name":"bias"},"transform":[{"filter":"datum.p==='R3'"}],"mark":{"type":"rule","strokeWidth":2,"strokeDash":[1.6,1.6]},
       "encoding":{"x":{"field":"b","type":"quantitative"},"color":{"field":"label","type":"nominal","scale":{"range":["#b00000"]},"legend":{"title":null,"orient":"top-right","offset":3,"symbolType":"stroke","symbolDash":[1.6,1.6],"symbolStrokeWidth":2,"symbolSize":70,"labelFontSize":5.5,"labelColor":"#333333","padding":3,"strokeColor":"#cccccc","fillColor":"#ffffff","cornerRadius":2}}}}
     ]}
   ]}
 ]
},
{
 "spacing":6,
 "resolve":{"scale":{"color":"independent","x":"independent","y":"independent"},"legend":{"color":"independent"}},
 "vconcat":[
  {"title":{"text":"No Interaction","font":"Liberation Serif","fontSize":10,"color":"#000000","offset":3,"anchor":"middle"},
   "spacing":8,
   "resolve":{"scale":{"color":"independent","x":"independent","y":"independent"},"legend":{"color":"independent"}},
   "vconcat":[
    {"width":121,"height":82,"title":{"text":"Evolution of Agent Opinions","offset":-8},
     "layer":[
      {"data":{"name":"lines"},"transform":[{"filter":"datum.p==='B'"}],
       "mark":{"type":"line","interpolate":"step-after","strokeWidth":1.4,"opacity":0.75},
       "encoding":{
        "x":{"field":"t","type":"quantitative","scale":{"domain":[-5,105],"nice":false},"axis":{"values":[0,20,40,60,80,100],"title":"Time Steps","grid":true}},
        "y":{"field":"v","type":"quantitative","scale":{"domain":[-2.25,2.3],"nice":false,"zero":false},"axis":{"values":[-2,-1,0,1,2],"title":"Opinion Profile","grid":true}},
        "color":{"field":"g","type":"nominal","scale":{"domain":["Dem","LDem","Neu","LRep","Rep"],"range":["#1f7bf0","#82c8f5","#a9a9a9","#ff9090","#ff2020"]},"legend":null},
        "detail":{"field":"a","type":"nominal"}}},
      {"data":{"values":[{"k":"b"}]},"mark":{"type":"text","font":"Liberation Serif","fontSize":12,"fontWeight":"bold","align":"left","baseline":"bottom"},
       "encoding":{"x":{"datum":-36,"type":"quantitative","axis":{"values":[0,20,40,60,80,100],"title":"Time Steps","grid":true}},"y":{"datum":2.3,"type":"quantitative","axis":{"values":[-2,-1,0,1,2],"title":"Opinion Profile","grid":true}},"text":{"field":"k"}}}
     ]},
    {"width":121,"height":76,"title":"Diversity = 1.1",
     "layer":[
      {"data":{"name":"hist"},"transform":[{"filter":"datum.p==='B'"}],"mark":{"type":"rect","fill":"#7b7b7b","stroke":"#dcdcdc","strokeWidth":1},
       "encoding":{"x":{"field":"lo","type":"quantitative","scale":{"domain":[-2.8,2.8],"nice":false},"axis":{"values":[-2,-1,0,1,2],"title":"Opinion Profile","grid":false}},"x2":{"field":"hi"},
        "y":{"field":"n","type":"quantitative","scale":{"domain":[0,3.15],"nice":false},"axis":{"values":[0,0.5,1,1.5,2,2.5,3],"format":".1f","title":"Number of Agents","grid":false}},"y2":{"datum":0}}},
      {"data":{"name":"bias"},"transform":[{"filter":"datum.p==='B'"}],"mark":{"type":"rule","strokeWidth":2,"strokeDash":[1.6,1.6]},
       "encoding":{"x":{"field":"b","type":"quantitative"},"color":{"field":"label","type":"nominal","scale":{"range":["#b00000"]},"legend":{"title":null,"orient":"top-right","offset":3,"symbolType":"stroke","symbolDash":[1.6,1.6],"symbolStrokeWidth":2,"symbolSize":70,"labelFontSize":5.5,"labelColor":"#333333","padding":3,"strokeColor":"#cccccc","fillColor":"#ffffff","cornerRadius":2}}}}
     ]}
   ]},
  {"title":{"text":"No Interaction + No Role-Playing","font":"Liberation Serif","fontSize":10,"color":"#000000","offset":3,"anchor":"middle"},
   "resolve":{"scale":{"color":"independent","x":"independent","y":"independent"},"legend":{"color":"independent"}},
   "vconcat":[
    {"width":126,"height":70,"title":{"text":"Evolution of Agent Opinions","offset":-8},
     "layer":[
      {"data":{"name":"lines"},"transform":[{"filter":"datum.p==='C'"}],
       "mark":{"type":"line","interpolate":"step-after","strokeWidth":1.4,"opacity":0.75},
       "encoding":{
        "x":{"field":"t","type":"quantitative","scale":{"domain":[-5,105],"nice":false},"axis":{"values":[0,20,40,60,80,100],"title":"Time Steps","grid":true}},
        "y":{"field":"v","type":"quantitative","scale":{"domain":[-2.1,2.0],"nice":false,"zero":false},"axis":{"values":[-2,-1,0,1,2],"title":"Opinion Profile","grid":true}},
        "color":{"field":"g","type":"nominal","scale":{"domain":["Dem","LDem","Neu","LRep","Rep"],"range":["#1f7bf0","#82c8f5","#a9a9a9","#ff9090","#ff2020"]},"legend":null},
        "detail":{"field":"a","type":"nominal"}}},
      {"data":{"values":[{"k":"c"}]},"mark":{"type":"text","font":"Liberation Serif","fontSize":12,"fontWeight":"bold","align":"left","baseline":"bottom"},
       "encoding":{"x":{"datum":-32,"type":"quantitative","axis":{"values":[0,20,40,60,80,100],"title":"Time Steps","grid":true}},"y":{"datum":2.0,"type":"quantitative","axis":{"values":[-2,-1,0,1,2],"title":"Opinion Profile","grid":true}},"text":{"field":"k"}}}
     ]}
   ]}
 ]
}
],
"spacing":10,
"resolve":{"scale":{"color":"independent","x":"independent","y":"independent"},"legend":{"color":"independent"}}
}
